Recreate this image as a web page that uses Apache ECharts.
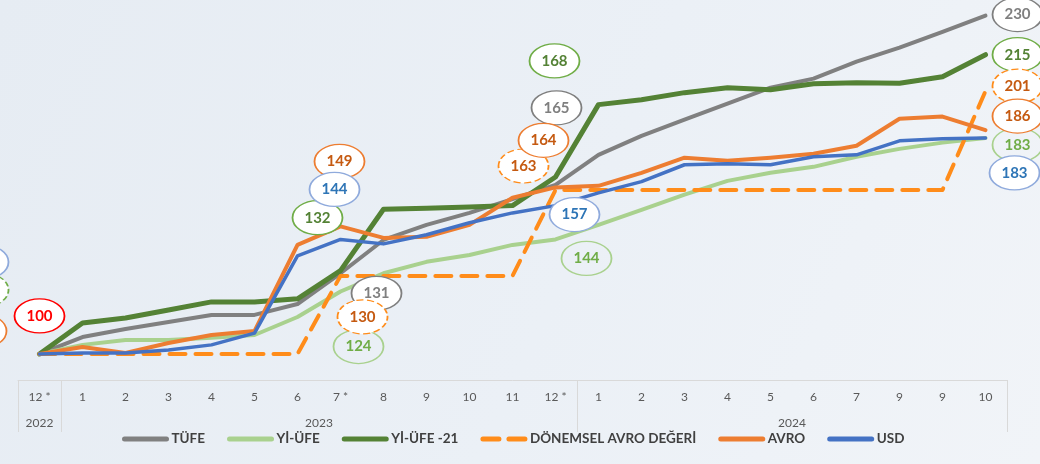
<!DOCTYPE html>
<html>
<head>
<meta charset="utf-8">
<script src="https://cdn.jsdelivr.net/npm/echarts@6/dist/echarts.min.js"></script>
<style>
html,body{margin:0;padding:0;background:#e9eef4;}
#chart{width:1040px;height:464px;}
</style>
</head>
<body>
<div id="chart"></div>
<script>
// ---- data ----
const categories = ['12 *','1','2','3','4','5','6','7 *','8','9','10','11','12 *','1','2','3','4','5','6','7','9','9','10'];
const yearNames = ['2022','2023','2024'];
const yearCounts = [1, 12, 10];

const tufe    = [100,106.5,109.6,112.3,115,115,119.2,131,143.8,149.6,154.2,159.5,165,176.5,183.8,190,196.2,202.3,205.8,212.3,217.7,223.8,230];
const yiUfe   = [100,103.5,105.4,105.4,106.2,107.3,114.2,124,131,135.4,138,141.9,144,149.6,155.4,161.2,166.5,169.6,171.9,175.8,178.8,181.2,183];
const yiUfe21 = [100,111.9,113.8,116.9,120,120,121.2,132,155.6,156,156.5,157,168,195.8,197.7,200.4,202.3,201.5,203.8,204.2,204,206.5,215];
const donemsel= [100,100,100,100,100,100,100,130,130,130,130,130,163,163,163,163,163,163,163,163,163,163,201];
const avro    = [100,102.7,100.4,104.2,107.3,108.8,141.9,149,144.6,145,149.6,160,164,164.6,169.6,175.4,174.2,175.4,176.9,180,190.4,191.2,186];
const usd     = [100,100.4,100.4,101.5,103.5,108,137.7,144,142.3,145.8,150.4,154.2,157,161.9,166.2,172.7,173.1,172.7,175.8,176.5,181.9,182.7,183];

// ---- label (ellipse callout) styles ----
const ST = {
  red:     {text:'#ff0000', border:'#ff0000', fill:'#ffffff', type:'solid'},
  gray:    {text:'#7f7f7f', border:'#7f7f7f', fill:'#ffffff', type:'solid'},
  dgreen:  {text:'#548235', border:'#70ad47', fill:'#ffffff', type:'solid'},
  lgreen:  {text:'#70ad47', border:'#a9d18e', fill:'rgba(255,255,255,0)', type:'solid'},
  lgreenD: {text:'#70ad47', border:'#70ad47', fill:'#ffffff', type:'dashed'},
  orange:  {text:'#c55a11', border:'#ed7d31', fill:'#ffffff', type:'solid'},
  orangeD: {text:'#c55a11', border:'#ff8c1a', fill:'#ffffff', type:'dashed'},
  blue:    {text:'#2e75b6', border:'#8faadc', fill:'#ffffff', type:'solid'}
};
const FONT = 'Lato, "Open Sans", sans-serif';
const ELLIPSE = 'path://M0,50 A50,50 0 1,1 100,50 A50,50 0 1,1 0,50 Z';

// index -> [style, offset]
const lineDefs = [
  {name:'TÜFE', values:tufe, color:'#808080', width:4,
   marks:{0:['red',[0,-38]],7:['gray',[36,20]],12:['gray',[1,-77]],22:['gray',[32,-1]]}},
  {name:'Yİ-ÜFE', values:yiUfe, color:'#a9d18e', width:4,
   marks:{7:['lgreen',[18,55]],12:['lgreen',[31,19]],22:['lgreen',[32,7]]}},
  {name:'Yİ-ÜFE -21', values:yiUfe21, color:'#548235', width:5,
   marks:{0:['lgreenD',[-56,-64]],7:['dgreen',[-23,-53]],12:['dgreen',[-1,-116]],22:['dgreen',[32,0]]}},
  {name:'DÖNEMSEL AVRO DEĞERİ', values:donemsel, color:'#ff8c1a', width:4, dashed:true,
   marks:{7:['orangeD',[22,41]],12:['orangeD',[-32,-24]],22:['orangeD',[32,-5]]}},
  {name:'AVRO', values:avro, color:'#ed7d31', width:4,
   marks:{0:['orange',[-58,-23]],7:['orange',[-1,-65]],12:['orange',[-12,-47]],22:['orange',[32,-14]]}},
  {name:'USD', values:usd, color:'#4472c4', width:3.5,
   marks:{0:['blue',[-56,-92]],7:['blue',[-6,-50]],12:['blue',[19,9]],22:['blue',[29,35]]}}
];

const lineSeries = lineDefs.map(d => ({
  name:d.name, type:'line', data:d.values,
  symbol:'none', showSymbol:false,
  itemStyle:{color:d.color},
  lineStyle:{color:d.color, width:d.width, type: d.dashed ? [16,10] : 'solid', cap:'round', join:'round'},
  emphasis:{disabled:true}, animation:false
}));

const calloutData = [];
lineDefs.forEach(d => {
  Object.keys(d.marks).forEach(k => {
    const i = +k, st = ST[d.marks[k][0]];
    calloutData.push({
      value:[i, d.values[i]],
      symbolOffset:d.marks[k][1],
      itemStyle:{color:st.fill, borderColor:st.border, borderWidth:1.5, borderType:st.type, opacity:1},
      label:{color:st.text}
    });
  });
});
const calloutSeries = {
  name:'_callouts', type:'scatter', data:calloutData, clip:false,
  symbol:ELLIPSE, symbolSize:[50,34], symbolKeepAspect:false,
  itemStyle:{opacity:1},
  label:{show:true, position:'inside', fontSize:15, fontWeight:'bold', fontFamily:FONT, opacity:1,
         formatter:(p)=> String(Math.round(p.value[1]))},
  emphasis:{disabled:true}, animation:false, z:5
};

// year label centers (category index units) and group boundaries
const yearCenters = {};
const boundaryIdx = [0];
let start = 0;
yearCounts.forEach((c,k)=>{
  yearCenters[(start + (start + c - 1))/2] = yearNames[k];
  start += c;
  if (start < categories.length) boundaryIdx.push(start);
});

const chart = echarts.init(document.getElementById('chart'));
chart.setOption({
  animation:false,
  backgroundColor:{type:'linear', x:0, y:0, x2:1, y2:1, colorStops:[
    {offset:0, color:'#e6ecf3'}, {offset:0.55, color:'#ebf0f6'}, {offset:1, color:'#f1f4f8'}]},
  textStyle:{fontFamily:FONT},
  grid:{left:18, right:33, top:0, bottom:84, containLabel:false},
  legend:{
    bottom:13, left:117, itemWidth:42, itemHeight:10, itemGap:22,
    lineStyle:{width:5},
    itemStyle:{opacity:0, borderWidth:0},
    textStyle:{fontSize:13.5, fontWeight:'bold', color:'#404040', fontFamily:FONT},
    data: lineDefs.map(d=>d.name)
  },
  xAxis:[
    {type:'category', data:categories, boundaryGap:true,
     axisLine:{show:true, lineStyle:{color:'#d9d9d9', width:1}},
     axisTick:{show:true, length:52, interval:(i)=>boundaryIdx.indexOf(i) >= 0, lineStyle:{color:'#d9d9d9', width:1}},
     axisLabel:{color:'#595959', fontSize:12, margin:11, interval:0},
     splitLine:{show:false}},
    {type:'value', min:-0.5, max:22.5, interval:0.5, position:'bottom',
     axisLine:{show:false}, axisTick:{show:false}, splitLine:{show:false},
     axisLabel:{color:'#595959', fontSize:12, margin:37, showMinLabel:true, showMaxLabel:true,
       formatter:(v)=> yearCenters[v] !== undefined ? yearCenters[v] : ''}}
  ],
  yAxis:{type:'value', min:90, max:236, show:false, splitLine:{show:false}},
  series: lineSeries.concat([calloutSeries])
});
</script>
</body>
</html>
